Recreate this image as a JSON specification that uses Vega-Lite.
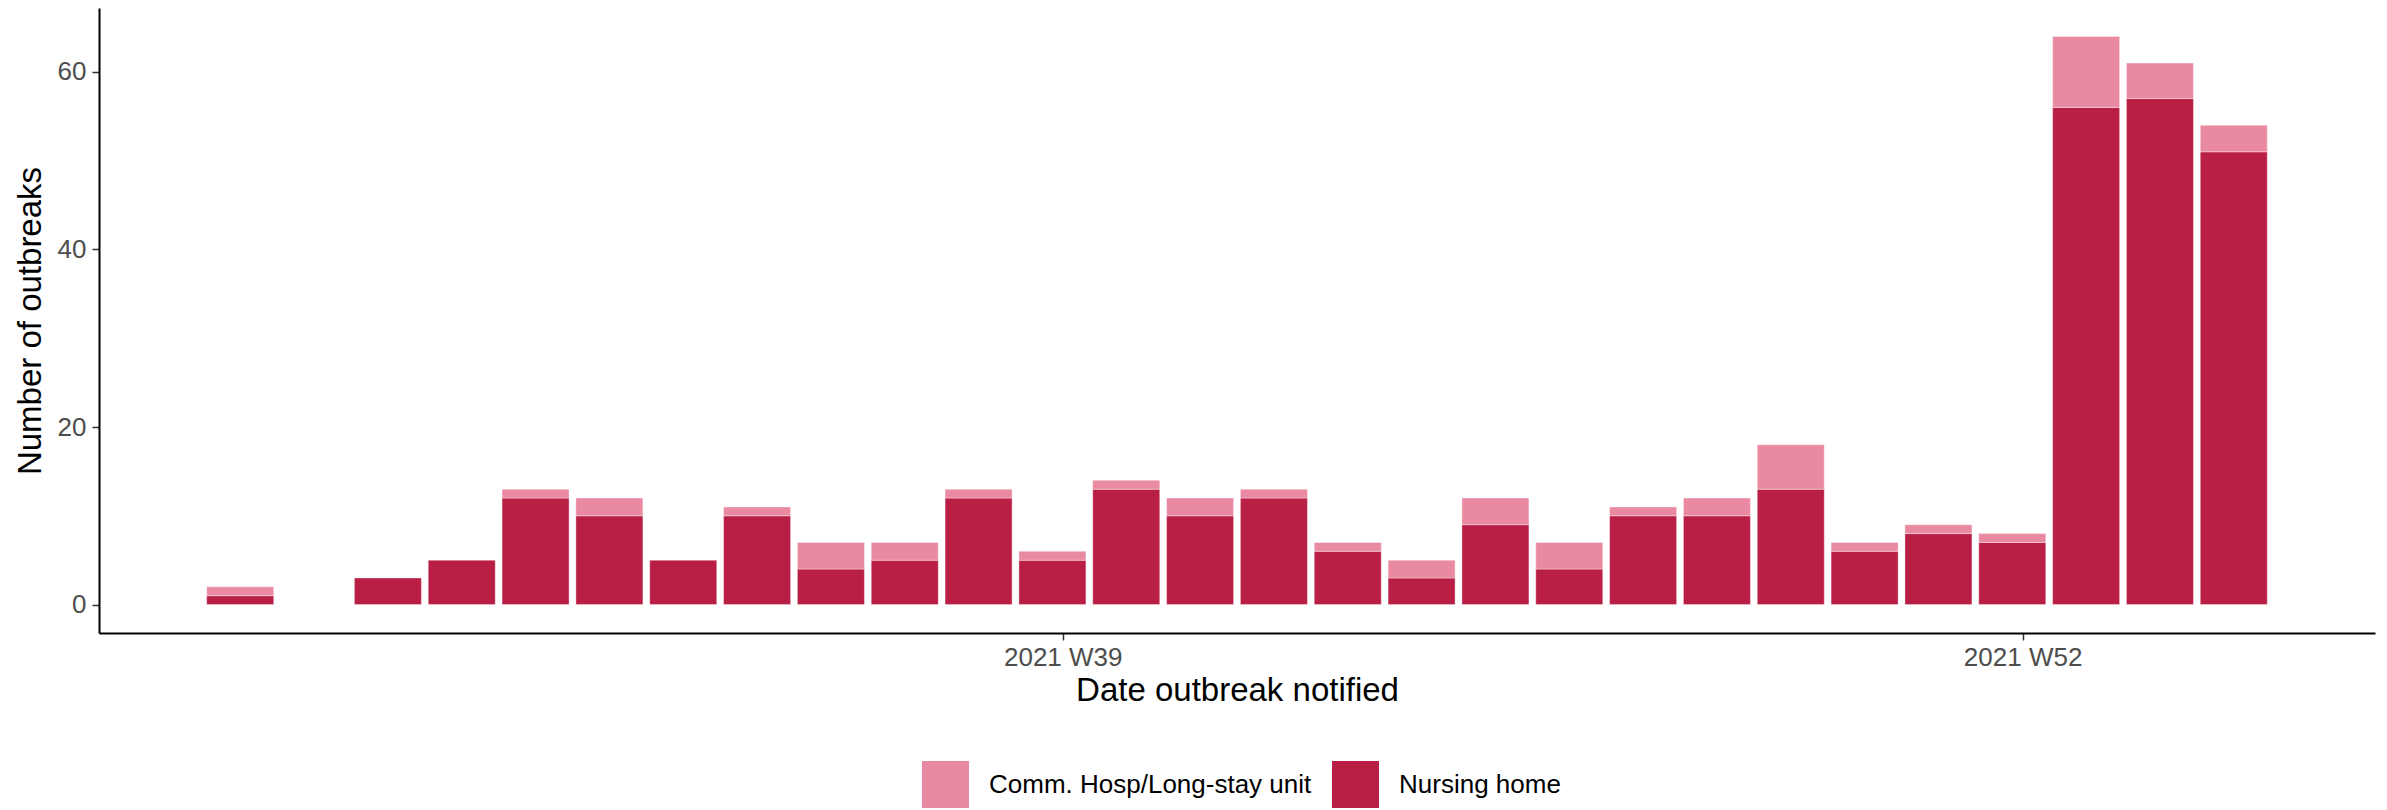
{
  "$schema": "https://vega.github.io/schema/vega-lite/v6.json",
  "width": 2276,
  "height": 625,
  "autosize": {"type": "none"},
  "padding": {"left": 99, "top": 8, "right": 12, "bottom": 177},
  "background": "white",
  "config": {
    "view": {"stroke": null},
    "font": "Liberation Sans"
  },
  "data": {
    "values": [
      {"week": 28, "type": "Nursing home", "n": 1},
      {"week": 28, "type": "Comm. Hosp/Long-stay unit", "n": 1},
      {"week": 30, "type": "Nursing home", "n": 3},
      {"week": 31, "type": "Nursing home", "n": 5},
      {"week": 32, "type": "Nursing home", "n": 12},
      {"week": 32, "type": "Comm. Hosp/Long-stay unit", "n": 1},
      {"week": 33, "type": "Nursing home", "n": 10},
      {"week": 33, "type": "Comm. Hosp/Long-stay unit", "n": 2},
      {"week": 34, "type": "Nursing home", "n": 5},
      {"week": 35, "type": "Nursing home", "n": 10},
      {"week": 35, "type": "Comm. Hosp/Long-stay unit", "n": 1},
      {"week": 36, "type": "Nursing home", "n": 4},
      {"week": 36, "type": "Comm. Hosp/Long-stay unit", "n": 3},
      {"week": 37, "type": "Nursing home", "n": 5},
      {"week": 37, "type": "Comm. Hosp/Long-stay unit", "n": 2},
      {"week": 38, "type": "Nursing home", "n": 12},
      {"week": 38, "type": "Comm. Hosp/Long-stay unit", "n": 1},
      {"week": 39, "type": "Nursing home", "n": 5},
      {"week": 39, "type": "Comm. Hosp/Long-stay unit", "n": 1},
      {"week": 40, "type": "Nursing home", "n": 13},
      {"week": 40, "type": "Comm. Hosp/Long-stay unit", "n": 1},
      {"week": 41, "type": "Nursing home", "n": 10},
      {"week": 41, "type": "Comm. Hosp/Long-stay unit", "n": 2},
      {"week": 42, "type": "Nursing home", "n": 12},
      {"week": 42, "type": "Comm. Hosp/Long-stay unit", "n": 1},
      {"week": 43, "type": "Nursing home", "n": 6},
      {"week": 43, "type": "Comm. Hosp/Long-stay unit", "n": 1},
      {"week": 44, "type": "Nursing home", "n": 3},
      {"week": 44, "type": "Comm. Hosp/Long-stay unit", "n": 2},
      {"week": 45, "type": "Nursing home", "n": 9},
      {"week": 45, "type": "Comm. Hosp/Long-stay unit", "n": 3},
      {"week": 46, "type": "Nursing home", "n": 4},
      {"week": 46, "type": "Comm. Hosp/Long-stay unit", "n": 3},
      {"week": 47, "type": "Nursing home", "n": 10},
      {"week": 47, "type": "Comm. Hosp/Long-stay unit", "n": 1},
      {"week": 48, "type": "Nursing home", "n": 10},
      {"week": 48, "type": "Comm. Hosp/Long-stay unit", "n": 2},
      {"week": 49, "type": "Nursing home", "n": 13},
      {"week": 49, "type": "Comm. Hosp/Long-stay unit", "n": 5},
      {"week": 50, "type": "Nursing home", "n": 6},
      {"week": 50, "type": "Comm. Hosp/Long-stay unit", "n": 1},
      {"week": 51, "type": "Nursing home", "n": 8},
      {"week": 51, "type": "Comm. Hosp/Long-stay unit", "n": 1},
      {"week": 52, "type": "Nursing home", "n": 7},
      {"week": 52, "type": "Comm. Hosp/Long-stay unit", "n": 1},
      {"week": 53, "type": "Nursing home", "n": 56},
      {"week": 53, "type": "Comm. Hosp/Long-stay unit", "n": 8},
      {"week": 54, "type": "Nursing home", "n": 57},
      {"week": 54, "type": "Comm. Hosp/Long-stay unit", "n": 4},
      {"week": 55, "type": "Nursing home", "n": 51},
      {"week": 55, "type": "Comm. Hosp/Long-stay unit", "n": 3}
    ]
  },
  "mark": {"type": "bar", "size": 67, "stroke": "white", "strokeWidth": 0.6, "strokeOpacity": 0.6},
  "encoding": {
    "x": {
      "field": "week",
      "type": "quantitative",
      "scale": {"domain": [26.155, 56.845], "nice": false, "zero": false},
      "axis": {
        "values": [39.14, 52.14],
        "labelExpr": "datum.value < 45 ? '2021 W39' : '2021 W52'",
        "title": "Date outbreak notified",
        "titleFontSize": 33,
        "titleFontWeight": "normal",
        "titleColor": "black",
        "titlePadding": 4,
        "labelFontSize": 26,
        "labelColor": "#4D4D4D",
        "labelPadding": 4,
        "tickColor": "#333333",
        "tickSize": 7,
        "tickWidth": 1.5,
        "domainColor": "black",
        "domainWidth": 2,
        "grid": false
      }
    },
    "y": {
      "field": "n",
      "type": "quantitative",
      "stack": "zero",
      "scale": {"domain": [-3.2, 67.2], "nice": false, "zero": false},
      "axis": {
        "values": [0, 20, 40, 60],
        "title": "Number of outbreaks",
        "titleFontSize": 33,
        "titleFontWeight": "normal",
        "titleColor": "black",
        "titlePadding": 10,
        "labelFontSize": 26,
        "labelColor": "#4D4D4D",
        "labelPadding": 6,
        "tickColor": "#333333",
        "tickSize": 7,
        "tickWidth": 1.5,
        "domainColor": "black",
        "domainWidth": 2,
        "grid": false
      }
    },
    "color": {
      "field": "type",
      "type": "nominal",
      "scale": {
        "domain": ["Comm. Hosp/Long-stay unit", "Nursing home"],
        "range": ["#EA8AA2", "#B91F45"]
      },
      "legend": {
        "title": null,
        "orient": "none",
        "direction": "horizontal",
        "legendX": 823,
        "legendY": 753,
        "symbolType": "square",
        "symbolSize": 2209,
        "symbolStrokeWidth": 0,
        "symbolOpacity": 1,
        "labelFontSize": 26,
        "labelLimit": 0,
        "labelColor": "black",
        "labelOffset": 20,
        "columnPadding": 20
      }
    },
    "order": {"field": "type", "sort": "descending"}
  }
}
